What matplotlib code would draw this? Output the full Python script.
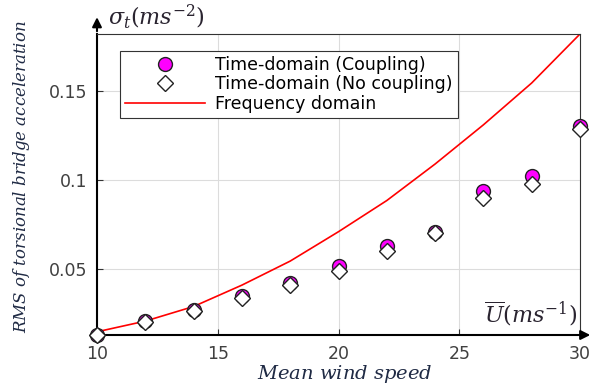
import matplotlib.pyplot as plt
import numpy as np

plt.rcParams['mathtext.fontset'] = 'dejavuserif'
plt.rcParams['font.family'] = ['DejaVu Sans']

# wind speed samples for time-domain results
wind_speed = [10, 12, 14, 16, 18, 20, 22, 24, 26, 28, 30]
rms_coupling = [0.0130, 0.0210, 0.0272, 0.0350, 0.0420, 0.0515, 0.0630, 0.0710, 0.0940, 0.1020, 0.1305]
rms_no_coupling = [0.0128, 0.0205, 0.0262, 0.0340, 0.0412, 0.0488, 0.0600, 0.0700, 0.0900, 0.0978, 0.1285]

# frequency domain curve
freq_speed = [10, 12, 14, 16, 18, 20, 22, 24, 26, 28, 30]
rms_freq = [0.0148, 0.0208, 0.0290, 0.0410, 0.0545, 0.0710, 0.0885, 0.1090, 0.1310, 0.1545, 0.1820]

x_ticks = [10, 15, 20, 25, 30]
y_ticks = [0.05, 0.1, 0.15]
y_tick_labels = ['0.05', '0.1', '0.15']

fig = plt.figure(figsize=(5.94, 3.87), dpi=100)
ax = fig.add_axes([97/594, 1 - 335/387, (580 - 97)/594, (335 - 34)/387])

ax.plot(freq_speed, rms_freq, color='red', lw=1.2, label='Frequency domain', zorder=2)
ax.plot(wind_speed, rms_coupling, 'o', ms=10, mfc='magenta', mec='#222222', mew=1.0,
        label='Time-domain (Coupling)', zorder=3, clip_on=False)
ax.plot(wind_speed, rms_no_coupling, 'D', ms=8, mfc='white', mec='#222222', mew=1.0,
        label='Time-domain (No coupling)', zorder=4, clip_on=False)

ax.set_xlim(10, 30)
ax.set_ylim(0.013, 0.182)
ax.set_xticks(x_ticks)
ax.set_yticks(y_ticks)
ax.set_yticklabels(y_tick_labels)
ax.tick_params(labelsize=12.5, labelcolor='#404040', direction='in', length=4, color='#333333')
ax.tick_params(axis='x', pad=7)
ax.tick_params(axis='y', pad=7)
ax.grid(True, color='#dcdcdc', lw=0.8)
ax.set_axisbelow(True)

for s in ['top', 'right']:
    ax.spines[s].set_color('#333333')
    ax.spines[s].set_linewidth(0.8)
for s in ['left', 'bottom']:
    ax.spines[s].set_color('black')
    ax.spines[s].set_linewidth(1.5)

# arrows at the ends of the axes
ax.annotate('', xy=(0, 1.065), xytext=(0, 1.0), xycoords='axes fraction',
            arrowprops=dict(arrowstyle='-|>', color='black', lw=1.5, mutation_scale=14))
ax.annotate('', xy=(1.027, 0), xytext=(1.0, 0), xycoords='axes fraction',
            arrowprops=dict(arrowstyle='-|>', color='black', lw=1.5, mutation_scale=14))

handles, labels = ax.get_legend_handles_labels()
order = [1, 2, 0]
leg = ax.legend([handles[i] for i in order], [labels[i] for i in order],
                loc='upper left', bbox_to_anchor=(0.047, 0.945), fontsize=12.5,
                frameon=True, fancybox=False, edgecolor='#333333', framealpha=1,
                handlelength=4.6, borderpad=0.3, labelspacing=0.1, handletextpad=0.6,
                borderaxespad=0)
leg.get_frame().set_linewidth(0.8)

txt_col = '#2a2430'
fig.text(108/594, 1 - 17/387, r'$\sigma_t(ms^{-2})$', fontsize=16, color=txt_col, va='center', ha='left')
ax.text(0.995, 0.07, r'$\overline{U}(ms^{-1})$', transform=ax.transAxes, fontsize=16,
        color=txt_col, ha='right', va='center')

fig.text(345/594, 2/387, r'$Mean\ wind\ speed$', fontsize=14, color='#1f2a44',
         ha='center', va='bottom')
fig.text(22/594, 1 - 177/387, r'$RMS\ of\ torsional\ bridge\ acceleration$', fontsize=12,
         color='#1f2a44', ha='center', va='center', rotation=90)

fig.savefig('out.png', dpi=100)
